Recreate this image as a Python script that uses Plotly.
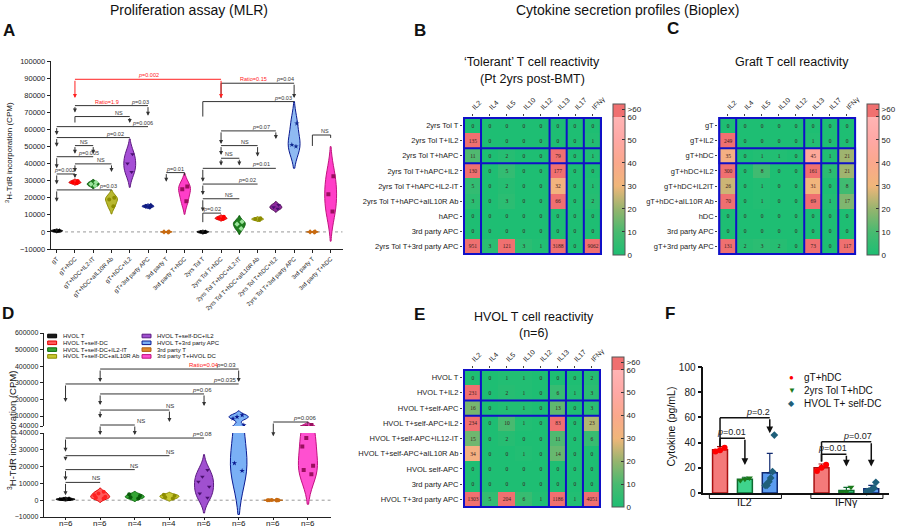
import plotly.graph_objects as go
import numpy as np

W, H = 900, 530
FONT = "Liberation Sans, Arial, Helvetica, sans-serif"
SERIF = "Liberation Serif, Times New Roman, serif"


def px(x):
    return x / W


def py(y):
    return 1 - y / H


# ---------------- Panel A data (MLR, CPM) ----------------
a_labels = ["gT", "gT+hDC", "gT+hDC+IL2-IT", "gT+hDC+aIL10R Ab", "gT+hDC+IL2",
            "gT+3rd party APC", "3rd party T", "3rd party T+hDC", "2yrs Tol T",
            "2yrs Tol T+hDC", "2yrs Tol T+hDC+IL2-IT", "2yrs Tol T+hDC+aIL10R Ab",
            "2yrs Tol T+hDC+IL2", "2yrs Tol T+3rd party APC", "3rd party T", "3rd party T+hDC"]
a_values = [
    [200, 600, 1000],
    [28500, 29000, 29800],
    [27000, 28000, 29000],
    [15000, 19000, 20000],
    [35000, 40000, 45500],
    [14500, 15000, 15500],
    [-100, 0, 100],
    [18000, 25000, 26500],
    [-500, 0, 300],
    [7500, 8000, 8800],
    [2000, 4500, 6000],
    [7000, 7500, 8000],
    [13500, 14500, 15800],
    [50000, 51000, 63500],
    [-100, 0, 100],
    [12000, 22000, 32500],
]
a_fill = ['#222222', '#ff2a2a', '#1e7d1e', '#b8b830', '#a64fd6', '#2838b0', '#d9801a', '#ff3ec8',
          '#222222', '#ff2a2a', '#1e7d1e', '#b8b830', '#8e2a9e', '#8fbaf2', '#d9801a', '#ff3ec8']
a_line = ['#000000', '#d00000', '#0a5a0a', '#8c8c00', '#5c1a80', '#101c80', '#b06010', '#c0147e',
          '#000000', '#d00000', '#0a5a0a', '#8c8c00', '#4a0a50', '#0a1a90', '#b06010', '#c0147e']
a_marker = ['#000000', '#ff0000', '#9be39b', '#8c8c00', '#4a1070', '#101c80', '#c86a10', '#9a0f5e',
            '#000000', '#ff0000', '#9be39b', '#8c8c00', '#4a1070', '#102a90', '#c86a10', '#9a0f5e']
a_symbol = ['triangle-up', 'circle', 'diamond', 'circle', 'triangle-down', 'diamond', 'diamond', 'square',
            'triangle-up', 'circle', 'diamond', 'circle', 'triangle-down', 'star', 'diamond', 'square']

RED = '#ff2020'
# comparisons: x0, x1, bar y, end0, end1, arrow0, arrow1, labels [(text, x, color)]
a_comparisons = [
    (1, 9, 89300, 78300, 78300, True, True, [("<i>p</i>=0.002", 5.0, RED)], RED),
    (9, 13, 87000, 78300, 78300, False, True, [("Ratio=0.15", 10.8, RED), ("<i>p</i>=0.04", 12.5, '#333')], '#333'),
    (8, 13, 76250, 67500, None, False, False, [("<i>p</i>=0.03", 12.4, '#333')], '#333'),
    (1, 5, 73900, 69800, 68000, True, True, [("Ratio=1.9", 2.75, RED), ("<i>p</i>=0.03", 4.55, '#333')], '#333'),
    (1, 4, 67500, 64000, 63700, False, True, [("NS", 3.4, '#333')], '#333'),
    (0, 5, 61600, 56700, None, True, False, [("<i>p</i>=0.006", 4.7, '#333')], '#333'),
    (0, 4, 55200, 49900, None, True, False, [("<i>p</i>=0.02", 3.2, '#333')], '#333'),
    (1, 2, 50500, 45700, 45700, True, True, [("NS", 1.5, '#333')], '#333'),
    (0, 2, 44000, 37200, None, True, False, [("<i>p</i>=0.005", 1.75, '#333')], '#333'),
    (1, 3, 39800, 35000, 35000, True, True, [("NS", 2.4, '#333')], '#333'),
    (0, 1, 33900, 27900, 31500, True, True, [("<i>p</i>=0.002", 0.45, '#333')], '#333'),
    (0, 3, 24570, 17700, None, True, False, [("<i>p</i>=0.03", 2.8, '#333')], '#333'),
    (9, 12, 59100, 51500, 54300, True, True, [("<i>p</i>=0.07", 11.2, '#333')], '#333'),
    (9, 11, 50500, 45000, 44100, True, True, [("NS", 10.3, '#333')], '#333'),
    (9, 10, 43100, 38800, 38800, True, True, [("NS", 9.45, '#333')], '#333'),
    (8, 12, 37200, 29400, None, True, False, [("<i>p</i>=0.01", 11.2, '#333')], '#333'),
    (8, 11, 28000, 21600, None, True, False, [("<i>p</i>=0.02", 10.4, '#333')], '#333'),
    (8, 10, 19400, 11900, None, True, False, [("NS", 9.45, '#333')], '#333'),
    (8, 9, 11000, 5700, None, False, False, [("<i>p</i>=0.02", 8.5, '#333')], '#333'),
    (6, 7, 34700, 29400, 33000, True, False, [("<i>p</i>=0.01", 6.5, '#333')], '#333'),
    (14, 15, 56700, 50300, 55000, False, False, [("NS", 14.7, '#333')], '#333'),
]

# ---------------- Heatmaps (Bioplex, pg/mL) ----------------
cytokines = ["IL2", "IL4", "IL5", "IL10", "IL12", "IL13", "IL17", "IFNγ"]
b_rows = ["2yrs Tol T", "2yrs Tol T+IL2", "2yrs Tol T+hAPC", "2yrs Tol T+hAPC+IL2",
          "2yrs Tol T+hAPC+IL2-IT", "2yrs Tol T+hAPC+aIL10R Ab", "hAPC", "3rd party APC",
          "2yrs Tol T+3rd party APC"]
b_vals = [
    [0, 0, 0, 0, 0, 0, 0, 0],
    [135, 0, 0, 0, 0, 0, 0, 1],
    [11, 0, 2, 0, 0, 79, 0, 1],
    [130, 0, 5, 0, 0, 177, 0, 0],
    [5, 0, 2, 0, 0, 32, 0, 1],
    [3, 0, 3, 0, 0, 66, 0, 2],
    [0, 0, 0, 0, 0, 0, 0, 0],
    [0, 0, 0, 0, 0, 0, 0, 0],
    [951, 3, 121, 3, 1, 3188, 0, 9062],
]
c_rows = ["gT", "gT+IL2", "gT+hDC", "gT+hDC+IL2", "gT+hDC+IL2IT", "gT+hDC+aIL10R Ab",
          "hDC", "3rd party APC", "gT+3rd party APC"]
c_vals = [
    [0, 0, 0, 0, 0, 0, 0, 0],
    [249, 0, 0, 0, 0, 1, 0, 0],
    [35, 0, 1, 1, 0, 45, 1, 21],
    [300, 0, 8, 0, 0, 161, 3, 21],
    [26, 0, 1, 0, 0, 31, 0, 8],
    [70, 0, 1, 0, 0, 69, 1, 17],
    [0, 0, 0, 0, 0, 0, 0, 0],
    [0, 0, 0, 0, 0, 0, 0, 0],
    [131, 2, 3, 2, 0, 73, 0, 117],
]
e_rows = ["HVOL T", "HVOL T+IL2", "HVOL T+self-APC", "HVOL T+self-APC+IL2",
          "HVOL T+self-APC+IL12-IT", "HVOL T+self-APC+aIL10R Ab", "HVOL self-APC",
          "3rd party APC", "HVOL T+3rd party APC"]
e_vals = [
    [0, 0, 1, 1, 0, 0, 0, 2],
    [231, 0, 2, 1, 0, 6, 1, 3],
    [16, 0, 1, 1, 0, 13, 0, 3],
    [234, 0, 10, 1, 0, 83, 0, 23],
    [15, 0, 2, 0, 0, 11, 0, 6],
    [34, 0, 0, 1, 0, 14, 0, 0],
    [0, 0, 0, 0, 0, 0, 0, 0],
    [0, 0, 0, 0, 0, 0, 0, 0],
    [1303, 5, 204, 6, 1, 1186, 1, 4051],
]
cb_ticks = [0, 10, 20, 30, 40, 50, 60]

# ---------------- Panel D data ----------------
d_labels = ["HVOL T", "HVOL T+self-DC", "HVOL T+self-DC+IL2-IT", "HVOL T+self-DC+aIL10R Ab",
            "HVOL T+self-DC+IL2", "HVOL T+3rd party APC", "3rd party T", "3rd party T+HVOL DC"]
d_n = ["n=6", "n=6", "n=4", "n=4", "n=6", "n=6", "n=6", "n=6"]
d_values = [
    [100, 300, 500, 700, 900, 1200],
    [1000, 1500, 2000, 3000, 4000, 5000],
    [1000, 1800, 2500, 3500],
    [1000, 1800, 2600, 3200],
    [1500, 4000, 8000, 11000, 14000, 18000],
    [17500, 22000, 45000, 85000, 95000, 105000],
    [-200, -100, 0, 0, 100, 200],
    [15500, 18000, 20500, 32000, 37000, 46000],
]
d_fill = ['#1a1a1a', '#ff5a5a', '#35a535', '#c8c832', '#a050d0', '#7ab0f5', '#e08a30', '#ff50d0']
d_line = ['#000000', '#e00000', '#0a6a0a', '#8c8c00', '#5a1a80', '#0a1a90', '#b06010', '#c0107e']
d_marker = ['#000000', '#ff2020', '#0a5a0a', '#8c8c00', '#4a1070', '#0a1a90', '#c86a10', '#9a0f5e']
d_symbol = ['triangle-up', 'circle', 'circle', 'circle', 'triangle-down', 'star', 'circle', 'square']
d_comparisons = [
    (1, 5, 383000, 305000, 305000, True, True, [("Ratio=0.04", 3.5, RED), ("<i>p</i>=0.03", 4.3, '#333')]),
    (0, 5, 293000, 185000, None, True, False, [("<i>p</i>=0.035", 4.2, '#333')]),
    (1, 4, 233000, 166000, 160000, True, True, [("<i>p</i>=0.06", 3.6, '#333')]),
    (1, 3, 136000, 88000, 64000, True, True, [("NS", 2.85, '#333')]),
    (1, 2, 46000, 38800, 38800, True, True, [("NS", 2.0, '#333')]),
    (0, 4, 37000, 28800, None, True, False, [("<i>p</i>=0.08", 3.6, '#333')]),
    (0, 3, 26500, 23500, None, True, False, [("NS", 2.85, '#333')]),
    (0, 2, 18200, 11800, None, True, False, [("NS", 1.8, '#333')]),
    (0, 1, 10600, 3000, None, True, False, [("NS", 0.7, '#333')]),
    (6, 7, 64000, 38000, 50000, True, False, [("<i>p</i>=0.006", 6.5, '#333')]),
]

# ---------------- Panel F data ----------------
f_groups = ["IL2", "IFNγ"]
f_series = ["gT+hDC", "2yrs Tol T+hDC", "HVOL T+ self-DC"]
f_means = [[34.3, 20.0], [11.0, 2.0], [16.0, 3.3]]
f_err = [[2.5, 3.0], [1.5, 2.5], [15.5, 2.8]]
f_points = [
    [[33, 34, 36], [17.5, 20, 22.5]],
    [[10, 11, 12], [0.5, 1, 4.5]],
    [[6, 6, 9, 12, 17, 46], [1, 1.5, 2, 3, 4, 8.5]],
]
f_bar_fill = ['#f47a7a', '#3fd48c', '#5b9cf0']
f_bar_line = ['#a81010', '#0e6a30', '#102a70']
f_pt_color = ['#ff0000', '#1b7a1b', '#1f5f7a']
f_pt_symbol = ['circle', 'triangle-down', 'diamond']
f_glyph = ['●', '▼', '◆']
f_offsets = [-0.245, 0.0, 0.245]
f_comparisons = [
    (0, 0, 1, 43.4, 37, 22.2, [("<i>p</i>=0.01", -0.13)]),
    (0, 0, 2, 59.8, 37, 47.4, [("<i>p</i>=0.2", 0.13)]),
    (1, 0, 1, 30.7, 25, 21.0, [("<i>p</i>=0.01", 0.86)]),
    (1, 0, 2, 40.7, 25, 21.0, [("<i>p</i>=0.07", 1.11)]),
]

fig = go.Figure()
shapes = []
annotations = []


def txt(x, y, text, size, color='#111', xanchor='center', yanchor='middle', bold=False, angle=0):
    if bold:
        text = '<b>' + text + '</b>'
    annotations.append(dict(xref='paper', yref='paper', x=px(x), y=py(y), text=text, showarrow=False,
                            xanchor=xanchor, yanchor=yanchor, textangle=angle,
                            font=dict(size=size, color=color, family=FONT)))


def data_bracket(xr, yr, x0, x1, yb, e0, e1, a0, a1, labels, color, fs, lw, asz):
    shapes.append(dict(type='line', xref=xr, yref=yr, x0=x0, x1=x1, y0=yb, y1=yb,
                       line=dict(color=color, width=lw)))
    for x, e, a in ((x0, e0, a0), (x1, e1, a1)):
        if e is None:
            continue
        if a:
            annotations.append(dict(xref=xr, yref=yr, axref=xr, ayref=yr, x=x, y=e, ax=x, ay=yb,
                                    text='', showarrow=True, arrowhead=2, arrowsize=asz,
                                    arrowwidth=lw, arrowcolor=color, standoff=0))
        else:
            shapes.append(dict(type='line', xref=xr, yref=yr, x0=x, x1=x, y0=yb, y1=e,
                               line=dict(color=color, width=lw)))
    for t, lx, c in labels:
        annotations.append(dict(xref=xr, yref=yr, x=lx, y=yb, text=t, showarrow=False,
                                yanchor='bottom', xanchor='center', yshift=-1,
                                font=dict(size=fs, color=c, family=FONT)))


# ---- Panel A violins ----
for i, vals in enumerate(a_values):
    fig.add_trace(go.Violin(x=[i] * len(vals), y=vals, xaxis='x', yaxis='y', width=0.65,
                            fillcolor=a_fill[i], line=dict(color=a_line[i], width=1),
                            points='all', pointpos=0, jitter=0.6, spanmode='soft',
                            marker=dict(color=a_marker[i], symbol=a_symbol[i], size=4, line=dict(width=0)),
                            showlegend=False, hoverinfo='skip'))
shapes.append(dict(type='line', xref='x', yref='y', x0=-0.2, x1=15.66, y0=0, y1=0,
                   line=dict(color='#999', width=1, dash='dot'), layer='below'))
for c in a_comparisons:
    x0, x1, yb, e0, e1, a0, a1, labels, col = c
    data_bracket('x', 'y', x0, x1, yb, e0, e1, a0, a1, labels, col, 5.5, 1, 0.8)

# ---- Heatmaps ----
ZMAX = 65.6
cstops = [(0, 'rgb(30,190,115)'), (10, 'rgb(72,186,112)'), (20, 'rgb(150,180,110)'),
          (30, 'rgb(240,182,122)'), (40, 'rgb(250,168,140)'), (50, 'rgb(255,168,165)'),
          (60, 'rgb(255,180,180)'), (60, 'rgb(240,112,112)'), (ZMAX, 'rgb(240,112,112)')]
colorscale = [[v / ZMAX, c] for v, c in cstops]

heat_specs = [
    (b_rows, b_vals, 'x2', 'y2', 617, 104, 255),
    (c_rows, c_vals, 'x3', 'y3', 873, 104, 255),
    (e_rows, e_vals, 'x4', 'y4', 616, 357, 507),
]
for rows, vals, xa, ya, cbx, cbtop, cbbot in heat_specs:
    z = [[min(v, 65) for v in r] for r in vals]
    fig.add_trace(go.Heatmap(
        z=z, x=cytokines, y=rows, text=vals, texttemplate='%{text}',
        textfont=dict(size=5.5, color='#3a2020', family=SERIF),
        colorscale=colorscale, zmin=0, zmax=ZMAX, xaxis=xa, yaxis=ya, hoverinfo='skip',
        colorbar=dict(x=px(cbx), xanchor='left', y=py(cbbot), yanchor='bottom',
                      len=(cbbot - cbtop) / H, lenmode='fraction', thickness=12,
                      thicknessmode='pixels', outlinewidth=1, outlinecolor='#555',
                      xpad=0, ypad=0, tickvals=cb_ticks + [63.2],
                      ticktext=[str(t) for t in cb_ticks] + ['>60'],
                      ticks='inside', ticklen=3, tickcolor='#333',
                      tickfont=dict(size=8, color='#222', family=FONT))))
    y60 = cbbot - 60 / ZMAX * (cbbot - cbtop)
    shapes.append(dict(type='line', xref='paper', yref='paper', x0=px(cbx), x1=px(cbx + 12),
                       y0=py(y60), y1=py(y60), line=dict(color='#111', width=1.5)))
    blue = dict(color='#1010c8', width=2)
    for (xx0, xx1, yy0, yy1) in [(-0.5, 7.5, -0.5, 8.5), (-0.5, 0.5, -0.5, 8.5), (4.5, 5.5, -0.5, 8.5),
                                 (6.5, 7.5, -0.5, 8.5), (-0.5, 7.5, 1.5, 2.5)]:
        shapes.append(dict(type='rect', xref=xa, yref=ya, x0=xx0, x1=xx1, y0=yy0, y1=yy1, line=blue))

# ---- Panel D (broken axis) ----
D_LO_DOM = (517, 433)
D_HI_DOM = (426, 333)
D_LO_RNG = (-10000, 40000)
D_HI_RNG = (40000, 600000)
D_X_DOM = (44, 333)
D_X_RNG = (-0.63, 7.66)


def d_ypix(v):
    if v <= 40000:
        lo, hi = D_LO_DOM
        r0, r1 = D_LO_RNG
    else:
        lo, hi = D_HI_DOM
        r0, r1 = D_HI_RNG
    return lo + (v - r0) / (r1 - r0) * (hi - lo)


def d_xpix(i):
    return D_X_DOM[0] + (i - D_X_RNG[0]) / (D_X_RNG[1] - D_X_RNG[0]) * (D_X_DOM[1] - D_X_DOM[0])


for i, vals in enumerate(d_values):
    bw = 13000 if i == 5 else None
    for xa, ya in (('x5', 'y5'), ('x6', 'y6')):
        fig.add_trace(go.Violin(x=[i] * len(vals), y=vals, xaxis=xa, yaxis=ya, width=0.55,
                                fillcolor=d_fill[i], line=dict(color=d_line[i], width=1),
                                points='all', pointpos=0, jitter=0.7, spanmode='soft', bandwidth=bw,
                                marker=dict(color=d_marker[i], symbol=d_symbol[i], size=4, line=dict(width=0)),
                                showlegend=False, hoverinfo='skip'))
shapes.append(dict(type='line', xref='x5', yref='y5', x0=-0.4, x1=7.66, y0=0, y1=0,
                   line=dict(color='#999', width=1, dash='dot'), layer='below'))
for c in d_comparisons:
    x0, x1, yb, e0, e1, a0, a1, labels = c
    X0, X1, YB = d_xpix(x0), d_xpix(x1), d_ypix(yb)
    shapes.append(dict(type='line', xref='paper', yref='paper', x0=px(X0), x1=px(X1),
                       y0=py(YB), y1=py(YB), line=dict(color='#333', width=1)))
    for X, e, a in ((X0, e0, a0), (X1, e1, a1)):
        if e is None:
            continue
        E = d_ypix(e)
        if a:
            annotations.append(dict(xref='paper', yref='paper', x=px(X), y=py(E), ax=0, ay=-(E - YB),
                                    text='', showarrow=True, arrowhead=2, arrowsize=0.8,
                                    arrowwidth=1, arrowcolor='#333', standoff=0))
        else:
            shapes.append(dict(type='line', xref='paper', yref='paper', x0=px(X), x1=px(X),
                               y0=py(YB), y1=py(E), line=dict(color='#333', width=1)))
    for t, lx, col in labels:
        annotations.append(dict(xref='paper', yref='paper', x=px(d_xpix(lx)), y=py(YB), text=t,
                                showarrow=False, yanchor='bottom', yshift=-1,
                                font=dict(size=6, color=col, family=FONT)))
# D group sizes under the axis
for i, lab in enumerate(d_n):
    annotations.append(dict(xref='x5', yref='paper', x=i, y=py(523), text=lab, showarrow=False,
                            yanchor='middle', borderpad=0, font=dict(size=8, color='#111', family=FONT)))

# D legend (two columns)
for k, name in enumerate(d_labels):
    col, row = divmod(k, 4)
    lx = 48 + col * 95
    ly = 336 + row * 6.8
    shapes.append(dict(type='rect', xref='paper', yref='paper', x0=px(lx), x1=px(lx + 9),
                       y0=py(ly - 1.8), y1=py(ly + 1.8), fillcolor=d_fill[k],
                       line=dict(color=d_line[k], width=1)))
    txt(lx + 13, ly, name, 6, xanchor='left')

# ---- Panel F ----
for s in range(3):
    xs = [g + f_offsets[s] for g in range(len(f_groups))]
    fig.add_trace(go.Bar(x=xs, y=f_means[s], width=0.147, xaxis='x7', yaxis='y7',
                         marker=dict(color=f_bar_fill[s], line=dict(color=f_bar_line[s], width=1.5)),
                         error_y=dict(type='data', array=f_err[s], arrayminus=[0, 0], symmetric=False,
                                      color=f_bar_line[s], thickness=1.2, width=3),
                         showlegend=False, hoverinfo='skip'))
for s in range(3):
    xs, ys = [], []
    for g in range(len(f_groups)):
        pts = f_points[s][g]
        spread = np.linspace(-0.045, 0.045, len(pts)) if len(pts) > 1 else [0]
        xs += [g + f_offsets[s] + d for d in spread]
        ys += pts
    fig.add_trace(go.Scatter(x=xs, y=ys, mode='markers', xaxis='x7', yaxis='y7', cliponaxis=False,
                             marker=dict(color=f_pt_color[s], symbol=f_pt_symbol[s], size=6),
                             showlegend=False, hoverinfo='skip'))
for g, s0, s1, yb, e0, e1, labels in f_comparisons:
    data_bracket('x7', 'y7', g + f_offsets[s0], g + f_offsets[s1], yb, e0, e1, False, True,
                 [(t, lx, '#222') for t, lx in labels], '#111', 9, 1.5, 0.9)
for g, name in enumerate(f_groups):
    shapes.append(dict(type='path', xref='x7', yref='paper',
                       path=f"M {g-0.35},{py(495)} L {g-0.35},{py(498.5)} L {g+0.36},{py(498.5)} L {g+0.36},{py(495)}",
                       line=dict(color='#111', width=1)))
    annotations.append(dict(xref='x7', yref='paper', x=g, y=py(510), text=name, showarrow=False,
                            font=dict(size=10.5, color='#111', family=FONT)))
for s, name in enumerate(f_series):
    ly = 377 + s * 13
    txt(797, ly, f_glyph[s], 8, color=f_pt_color[s])
    txt(807, ly, name, 10, xanchor='left')

# ---- Titles and labels ----
txt(190, 10, "Proliferation assay (MLR)", 14)
txt(632, 10, "Cytokine secretion profiles (Bioplex)", 14)
txt(9, 31, "A", 17, bold=True)
txt(423, 31, "B", 17, bold=True)
txt(678, 29, "C", 17, bold=True)
txt(8, 313, "D", 17, bold=True)
txt(422, 314, "E", 17, bold=True)
txt(674, 313, "F", 17, bold=True)
txt(536, 62, "‘Tolerant’ T cell reactivity", 12.5)
txt(536, 79, "(Pt 2yrs post-BMT)", 12.5)
txt(797, 62, "Graft T cell reactivity", 12.5)
txt(538, 317, "HVOL T cell reactivity", 12.5)
txt(538, 333, "(n=6)", 12.5)
txt(9, 152, "<sup>3</sup>H-TdR incorporation (CPM)", 8, angle=-90)
txt(12, 430, "<sup>3</sup>H-TdR incorporation (CPM)", 9.5, angle=-90)
txt(675, 427, "Cytokine (pg/mL)", 10.5, angle=-90)

ax_line = dict(showline=True, linecolor='#222', linewidth=1, ticks='outside', ticklen=3,
               tickwidth=1, tickcolor='#222', zeroline=False, showgrid=False, automargin=False)
heat_x = dict(side='top', tickangle=-45, tickfont=dict(size=7, color='#222'), ticks='outside', ticklen=2,
              showgrid=False, zeroline=False, showline=False, automargin=False)
heat_y = dict(autorange='reversed', tickfont=dict(size=7.5, color='#222'), ticks='outside', ticklen=2,
              showgrid=False, zeroline=False, showline=False, automargin=False)
d_x = dict(ax_line)
d_x['ticklen'] = 2

fig.update_layout(
    template='none', width=W, height=H, margin=dict(l=0, r=0, t=0, b=0),
    paper_bgcolor='white', plot_bgcolor='rgba(0,0,0,0)', showlegend=False,
    font=dict(family=FONT, color='#222'), barmode='overlay',
    xaxis=dict(domain=[px(51), px(345)], range=[-0.33, 15.66], tickmode='array',
               tickvals=list(range(len(a_labels))), ticktext=a_labels, tickangle=-45,
               tickfont=dict(size=6), anchor='y', **ax_line),
    yaxis=dict(domain=[py(249), py(61)], range=[-10000, 100000], dtick=10000, tickformat='d',
               tickfont=dict(size=7.5), anchor='x', **ax_line),
    xaxis2=dict(domain=[px(466), px(606)], anchor='y2', **heat_x),
    yaxis2=dict(domain=[py(255), py(117)], anchor='x2', **heat_y),
    xaxis3=dict(domain=[px(723), px(862)], anchor='y3', **heat_x),
    yaxis3=dict(domain=[py(255), py(117)], anchor='x3', **heat_y),
    xaxis4=dict(domain=[px(466), px(605)], anchor='y4', **heat_x),
    yaxis4=dict(domain=[py(508), py(369)], anchor='x4', **heat_y),
    xaxis5=dict(domain=[px(D_X_DOM[0]), px(D_X_DOM[1])], range=list(D_X_RNG), tickmode='array',
                tickvals=list(range(len(d_n))), showticklabels=False, anchor='y5', **d_x),
    yaxis5=dict(domain=[py(D_LO_DOM[0]), py(D_LO_DOM[1])], range=list(D_LO_RNG), tickmode='array',
                tickvals=[-10000, 0, 10000, 20000, 30000, 40000], tickformat='d',
                tickfont=dict(size=7), anchor='x5', **ax_line),
    xaxis6=dict(domain=[px(D_X_DOM[0]), px(D_X_DOM[1])], range=list(D_X_RNG), anchor='y6', visible=False),
    yaxis6=dict(domain=[py(D_HI_DOM[0]), py(D_HI_DOM[1])], range=list(D_HI_RNG), tickmode='array',
                tickvals=[40000, 100000, 200000, 300000, 400000, 500000, 600000], tickformat='d',
                tickfont=dict(size=7), anchor='x6', **ax_line),
    xaxis7=dict(domain=[px(708), px(895)], range=[-0.41, 1.42], showticklabels=False, showline=True,
                linecolor='#111', linewidth=1.5, ticks='', showgrid=False, zeroline=False, anchor='y7'),
    yaxis7=dict(domain=[py(493), py(367)], range=[0, 100], dtick=20, tickfont=dict(size=10),
                anchor='x7', showline=True, linecolor='#111', linewidth=1.5, ticks='outside', ticklen=4,
                tickwidth=1.5, tickcolor='#111', showgrid=False, zeroline=False),
    shapes=shapes, annotations=annotations,
)

fig.write_html("out.html", config={'displayModeBar': False},
               post_script="document.body.style.margin='0';document.body.style.padding='0';")
